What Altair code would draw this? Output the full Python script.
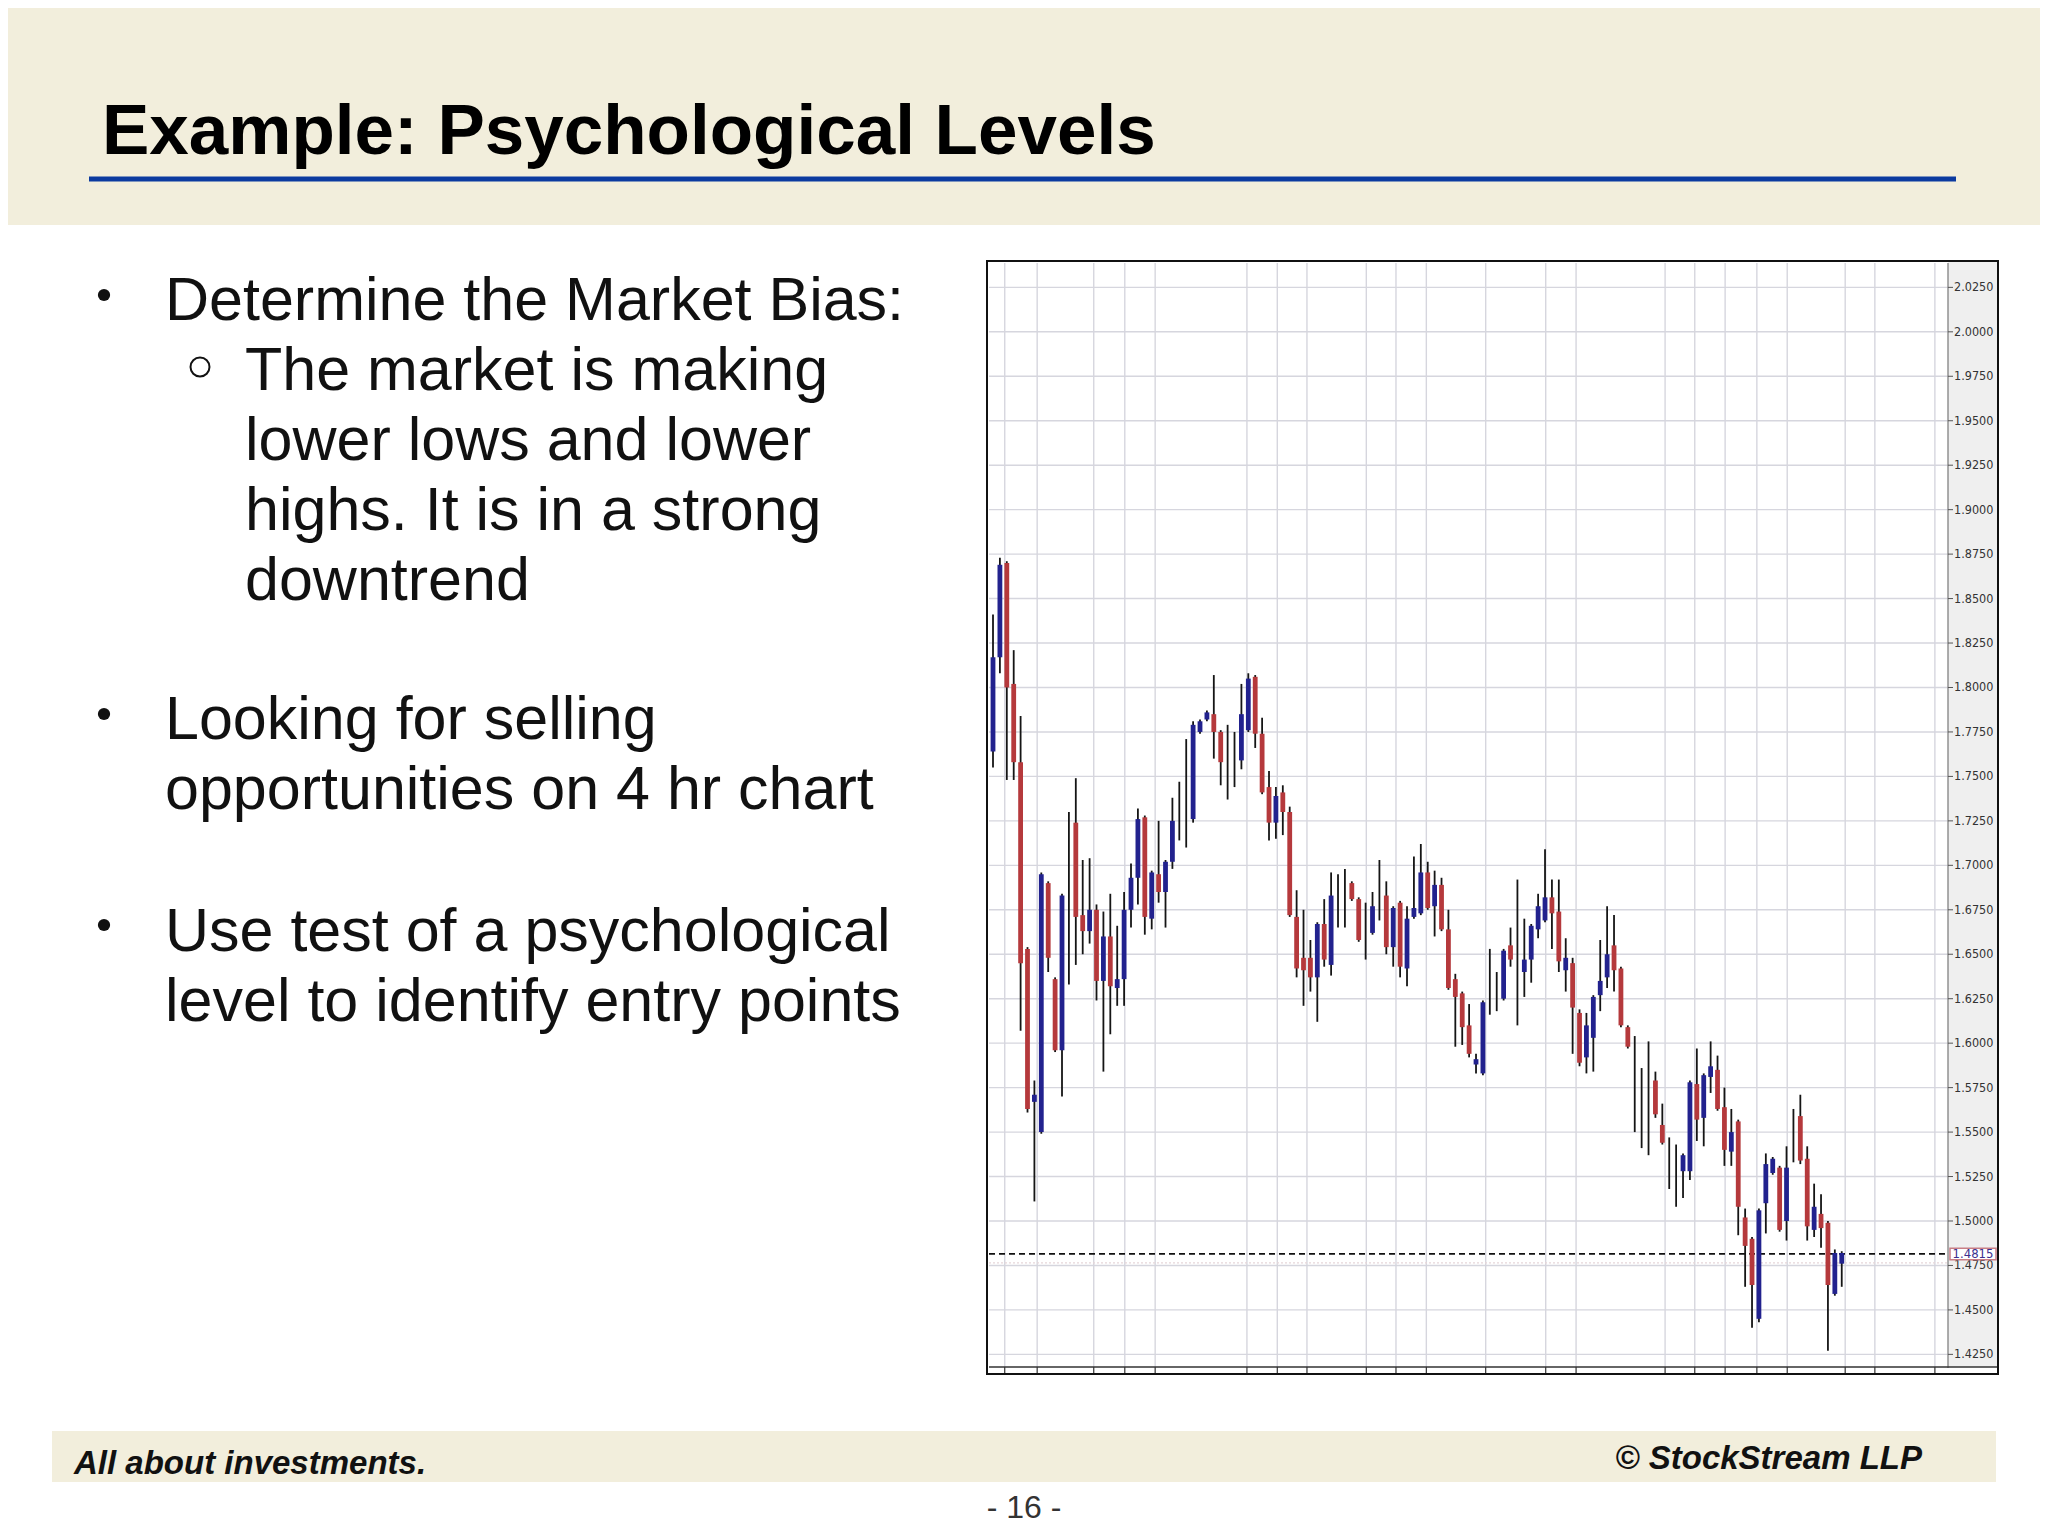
import altair as alt
import pandas as pd

# ---------------- data ----------------
opens = [1.764, 1.817, 1.870, 1.802, 1.758, 1.653, 1.567, 1.550, 1.690, 1.636,
         1.596, 1.657, 1.724, 1.672, 1.663, 1.675, 1.635, 1.660, 1.631, 1.636,
         1.675, 1.693, 1.727, 1.670, 1.695, 1.685, 1.702, 1.725, 1.740, 1.726,
         1.775, 1.782, 1.785, 1.775, 1.764, 1.759, 1.759, 1.776, 1.806, 1.774,
         1.744, 1.724, 1.741, 1.730, 1.671, 1.648, 1.648, 1.637, 1.667, 1.644,
         1.686, 1.683, 1.690, 1.681, 1.668, 1.662, 1.678, 1.683, 1.654, 1.679,
         1.642, 1.671, 1.673, 1.696, 1.677, 1.689, 1.664, 1.636, 1.628, 1.610,
         1.588, 1.583, 1.637, 1.629, 1.625, 1.655, 1.648, 1.640, 1.647, 1.664,
         1.669, 1.682, 1.674, 1.641, 1.645, 1.617, 1.592, 1.603, 1.627, 1.637,
         1.655, 1.642, 1.609, 1.580, 1.565, 1.556, 1.579, 1.554, 1.531, 1.521,
         1.528, 1.528, 1.577, 1.558, 1.581, 1.585, 1.564, 1.539, 1.556, 1.502,
         1.490, 1.445, 1.510, 1.527, 1.530, 1.500, 1.548, 1.559, 1.535, 1.495,
         1.504, 1.499, 1.459, 1.476]
highs = [1.841, 1.873, 1.871, 1.821, 1.784, 1.654, 1.579, 1.696, 1.691, 1.637,
         1.684, 1.730, 1.749, 1.703, 1.704, 1.678, 1.674, 1.684, 1.666, 1.685,
         1.701, 1.732, 1.728, 1.697, 1.725, 1.703, 1.738, 1.747, 1.771, 1.781,
         1.782, 1.787, 1.807, 1.776, 1.779, 1.775, 1.802, 1.808, 1.807, 1.783,
         1.753, 1.744, 1.745, 1.733, 1.686, 1.675, 1.658, 1.668, 1.681, 1.696,
         1.695, 1.698, 1.691, 1.682, 1.679, 1.685, 1.703, 1.691, 1.677, 1.680,
         1.677, 1.705, 1.712, 1.702, 1.697, 1.693, 1.675, 1.639, 1.629, 1.622,
         1.594, 1.624, 1.653, 1.640, 1.653, 1.665, 1.692, 1.670, 1.667, 1.684,
         1.709, 1.692, 1.692, 1.659, 1.648, 1.619, 1.617, 1.627, 1.658, 1.677,
         1.672, 1.643, 1.610, 1.604, 1.586, 1.601, 1.584, 1.566, 1.547, 1.543,
         1.538, 1.579, 1.597, 1.583, 1.601, 1.593, 1.575, 1.563, 1.557, 1.507,
         1.491, 1.507, 1.538, 1.536, 1.531, 1.542, 1.563, 1.571, 1.542, 1.521,
         1.515, 1.500, 1.484, 1.483]
lows = [1.755, 1.808, 1.748, 1.748, 1.607, 1.561, 1.511, 1.549, 1.640, 1.595,
        1.570, 1.633, 1.644, 1.650, 1.656, 1.624, 1.584, 1.605, 1.621, 1.621,
        1.665, 1.678, 1.661, 1.664, 1.679, 1.665, 1.698, 1.714, 1.710, 1.724,
        1.774, 1.781, 1.760, 1.745, 1.737, 1.744, 1.754, 1.775, 1.766, 1.740,
        1.714, 1.715, 1.717, 1.671, 1.637, 1.621, 1.629, 1.612, 1.643, 1.638,
        1.665, 1.665, 1.680, 1.657, 1.647, 1.661, 1.669, 1.650, 1.643, 1.637,
        1.632, 1.670, 1.672, 1.675, 1.660, 1.663, 1.630, 1.598, 1.599, 1.592,
        1.583, 1.582, 1.616, 1.618, 1.624, 1.643, 1.610, 1.626, 1.634, 1.659,
        1.668, 1.653, 1.640, 1.629, 1.594, 1.587, 1.583, 1.584, 1.618, 1.631,
        1.629, 1.609, 1.597, 1.550, 1.541, 1.537, 1.558, 1.543, 1.518, 1.508,
        1.513, 1.523, 1.545, 1.542, 1.572, 1.562, 1.531, 1.531, 1.492, 1.463,
        1.440, 1.443, 1.493, 1.526, 1.494, 1.489, 1.533, 1.532, 1.489, 1.491,
        1.485, 1.427, 1.458, 1.463]
closes = [1.817, 1.869, 1.800, 1.758, 1.645, 1.563, 1.571, 1.695, 1.648, 1.596,
          1.683, 1.657, 1.671, 1.663, 1.675, 1.635, 1.660, 1.632, 1.636, 1.675,
          1.693, 1.726, 1.671, 1.696, 1.685, 1.702, 1.725, 1.725, 1.740, 1.779,
          1.781, 1.786, 1.775, 1.758, 1.764, 1.759, 1.785, 1.805, 1.774, 1.741,
          1.724, 1.739, 1.730, 1.672, 1.642, 1.641, 1.637, 1.667, 1.647, 1.683,
          1.686, 1.683, 1.681, 1.658, 1.668, 1.677, 1.678, 1.654, 1.676, 1.643,
          1.670, 1.676, 1.696, 1.676, 1.689, 1.664, 1.631, 1.626, 1.609, 1.594,
          1.591, 1.623, 1.637, 1.629, 1.652, 1.647, 1.648, 1.647, 1.666, 1.677,
          1.682, 1.673, 1.646, 1.648, 1.620, 1.589, 1.610, 1.626, 1.635, 1.650,
          1.641, 1.610, 1.598, 1.580, 1.565, 1.556, 1.560, 1.544, 1.531, 1.521,
          1.537, 1.578, 1.557, 1.582, 1.587, 1.563, 1.540, 1.550, 1.508, 1.486,
          1.464, 1.506, 1.532, 1.535, 1.495, 1.530, 1.548, 1.534, 1.497, 1.508,
          1.496, 1.464, 1.482, 1.482]

price_ticks = [2.0250, 2.0000, 1.9750, 1.9500, 1.9250, 1.9000, 1.8750, 1.8500,
               1.8250, 1.8000, 1.7750, 1.7500, 1.7250, 1.7000, 1.6750, 1.6500,
               1.6250, 1.6000, 1.5750, 1.5500, 1.5250, 1.5000, 1.4750, 1.4500,
               1.4250]
time_grid = [1.7, 6.4, 14.6, 19.1, 23.5, 36.8, 41.2, 45.5, 54.1, 58.4, 62.8,
             71.4, 80.1, 84.5, 97.4, 101.7, 106.1, 110.7, 115.1, 123.5, 127.8, 136.5]
level = [1.4815]
ask_level = [1.4765]

title = "Example: Psychological Levels"
bullet1 = "Determine the Market Bias:"
sub1 = ["The market is making", "lower lows and lower",
        "highs. It is in a strong", "downtrend"]
bullet2 = ["Looking for selling", "opportunities on 4 hr chart"]
bullet3 = ["Use test of a psychological", "level to identify entry points"]
footer_left = "All about investments."
footer_right = "\u00a9 StockStream LLP"
page_no = "- 16 -"

# ---------------- styling ----------------
W, H = 2032, 1520
BEIGE = "#F2EEDC"
BLUE_LINE = "#0B3A9F"
RED = "#B5393C"
BLUE = "#22228E"
GRID = "#D6D6DE"
FONT = "Liberation Sans"
NARROW = "'Liberation Sans Narrow', 'DejaVu Sans Condensed', 'Liberation Sans'"

XS = alt.Scale(domain=[-0.58, 138.4], range=[981, 1940], nice=False, zero=False)
YS = alt.Scale(domain=[1.4179, 2.0387], range=[1359, 255], nice=False, zero=False)

df = pd.DataFrame({"i": list(range(len(opens))), "open": opens, "high": highs,
                   "low": lows, "close": closes})
ticks_df = pd.DataFrame({"p": price_ticks})
tgrid_df = pd.DataFrame({"t": time_grid})
lvl_df = pd.DataFrame({"p": level})
ask_df = pd.DataFrame({"p": ask_level})
one = pd.DataFrame({"k": [0]})


def rect(x, x2, y, y2, **kw):
    return alt.Chart(one).mark_rect(**kw).encode(
        x=alt.value(x), x2=alt.value(x2), y=alt.value(y), y2=alt.value(y2))


def text(x, y, s, **kw):
    base = dict(align="left", baseline="alphabetic", font=FONT, color="#111")
    base.update(kw)
    return alt.Chart(one).mark_text(**base).encode(
        x=alt.value(x), y=alt.value(y), text=alt.value(s))


layers = []
# slide bands
layers.append(rect(0, W, 0, 217, color=BEIGE))
layers.append(rect(44, 1988, 1423, 1474, color=BEIGE))
layers.append(alt.Chart(one).mark_rule(color=BLUE_LINE, strokeWidth=5).encode(
    x=alt.value(81), x2=alt.value(1948), y=alt.value(171)))

# chart frame
layers.append(rect(979, 1990, 253, 1366, fill="white", stroke="#111", strokeWidth=2))
layers.append(rect(1940, 1989, 254, 1359, color="#EFEFEF"))

# grid
layers.append(alt.Chart(ticks_df).mark_rule(color=GRID, strokeWidth=1.4).encode(
    y=alt.Y("p:Q", scale=YS, axis=None), x=alt.value(981), x2=alt.value(1940)))
layers.append(alt.Chart(tgrid_df).mark_rule(color=GRID, strokeWidth=1.4).encode(
    x=alt.X("t:Q", scale=XS, axis=None), y=alt.value(255), y2=alt.value(1359)))

# axes
layers.append(alt.Chart(one).mark_rule(color="#777", strokeWidth=1.2).encode(
    x=alt.value(1940), y=alt.value(255), y2=alt.value(1360)))
layers.append(alt.Chart(one).mark_rule(color="#333", strokeWidth=1.5).encode(
    x=alt.value(981), x2=alt.value(1989), y=alt.value(1359)))
layers.append(alt.Chart(tgrid_df).mark_rule(color="#333", strokeWidth=1.2).encode(
    x=alt.X("t:Q", scale=XS, axis=None), y=alt.value(1359), y2=alt.value(1365)))
layers.append(alt.Chart(ticks_df).mark_rule(color="#555", strokeWidth=1).encode(
    y=alt.Y("p:Q", scale=YS, axis=None), x=alt.value(1940), x2=alt.value(1945)))
layers.append(alt.Chart(ticks_df).mark_text(
    align="left", baseline="middle", font=NARROW, fontSize=12.5, color="#333").encode(
    y=alt.Y("p:Q", scale=YS, axis=None), x=alt.value(1946),
    text=alt.Text("p:Q", format=".4f")))

# level lines
layers.append(alt.Chart(ask_df).mark_rule(color="#E6D6D9", strokeWidth=1.2, strokeDash=[2, 2]).encode(
    y=alt.Y("p:Q", scale=YS, axis=None), x=alt.value(981), x2=alt.value(1940)))
layers.append(alt.Chart(lvl_df).mark_rule(color="#111", strokeWidth=1.6, strokeDash=[6, 4]).encode(
    y=alt.Y("p:Q", scale=YS, axis=None), x=alt.value(981), x2=alt.value(1940)))

# candles
layers.append(alt.Chart(df).mark_rule(color="#151515", strokeWidth=1.8).encode(
    x=alt.X("i:Q", scale=XS, axis=None),
    y=alt.Y("low:Q", scale=YS, axis=None), y2="high:Q"))
layers.append(alt.Chart(df).transform_calculate(
    dir="datum.close > datum.open ? 'up' : (datum.close < datum.open ? 'down' : 'flat')"
).transform_filter("datum.dir != 'flat'").mark_rule(strokeWidth=4.8, strokeCap="butt").encode(
    x=alt.X("i:Q", scale=XS, axis=None),
    y=alt.Y("open:Q", scale=YS, axis=None), y2="close:Q",
    color=alt.Color("dir:N", scale=alt.Scale(domain=["up", "down"], range=[BLUE, RED]),
                    legend=None)))

# boxed price label
layers.append(alt.Chart(lvl_df).mark_point(
    shape="M-1,-0.25L1,-0.25L1,0.25L-1,0.25Z", size=2116, fill="white",
    stroke="#C87E86", strokeWidth=1.5, opacity=1, fillOpacity=1).encode(
    y=alt.Y("p:Q", scale=YS, axis=None), x=alt.value(1965)))
layers.append(alt.Chart(lvl_df).mark_text(
    align="center", baseline="middle", font=NARROW, fontSize=13, color="#3B2F8F").encode(
    y=alt.Y("p:Q", scale=YS, axis=None), x=alt.value(1965),
    text=alt.Text("p:Q", format=".4f")))

# slide text
layers.append(text(94, 146, title, fontSize=71, fontWeight="bold", color="#000"))
layers.append(text(157, 312, bullet1, fontSize=61))
layers.append(text(237, 382, "\n".join(sub1), fontSize=61, lineBreak="\n", lineHeight=70))
layers.append(text(157, 731, "\n".join(bullet2), fontSize=61, lineBreak="\n", lineHeight=70))
layers.append(text(157, 943, "\n".join(bullet3), fontSize=61, lineBreak="\n", lineHeight=70))

for by in [287, 706, 917]:
    layers.append(alt.Chart(one).mark_circle(size=150, color="#111", opacity=1).encode(
        x=alt.value(96), y=alt.value(by)))
layers.append(alt.Chart(one).mark_point(shape="circle", size=360, strokeWidth=2,
                                         color="#111", opacity=1, filled=False).encode(
    x=alt.value(192), y=alt.value(359)))

layers.append(text(66, 1466, footer_left, fontSize=33, fontWeight="bold", fontStyle="italic"))
layers.append(text(1914, 1461, footer_right, fontSize=33, fontWeight="bold",
                   fontStyle="italic", align="right"))
layers.append(text(1016, 1510, page_no, fontSize=32, align="center", color="#333"))

chart = alt.layer(*layers).properties(
    width=W, height=H, autosize=alt.AutoSizeParams(type="none"), padding=0,
    background="white"
).configure_view(stroke=None)

chart.save("out.html", embed_options={"renderer": "svg", "actions": False})
